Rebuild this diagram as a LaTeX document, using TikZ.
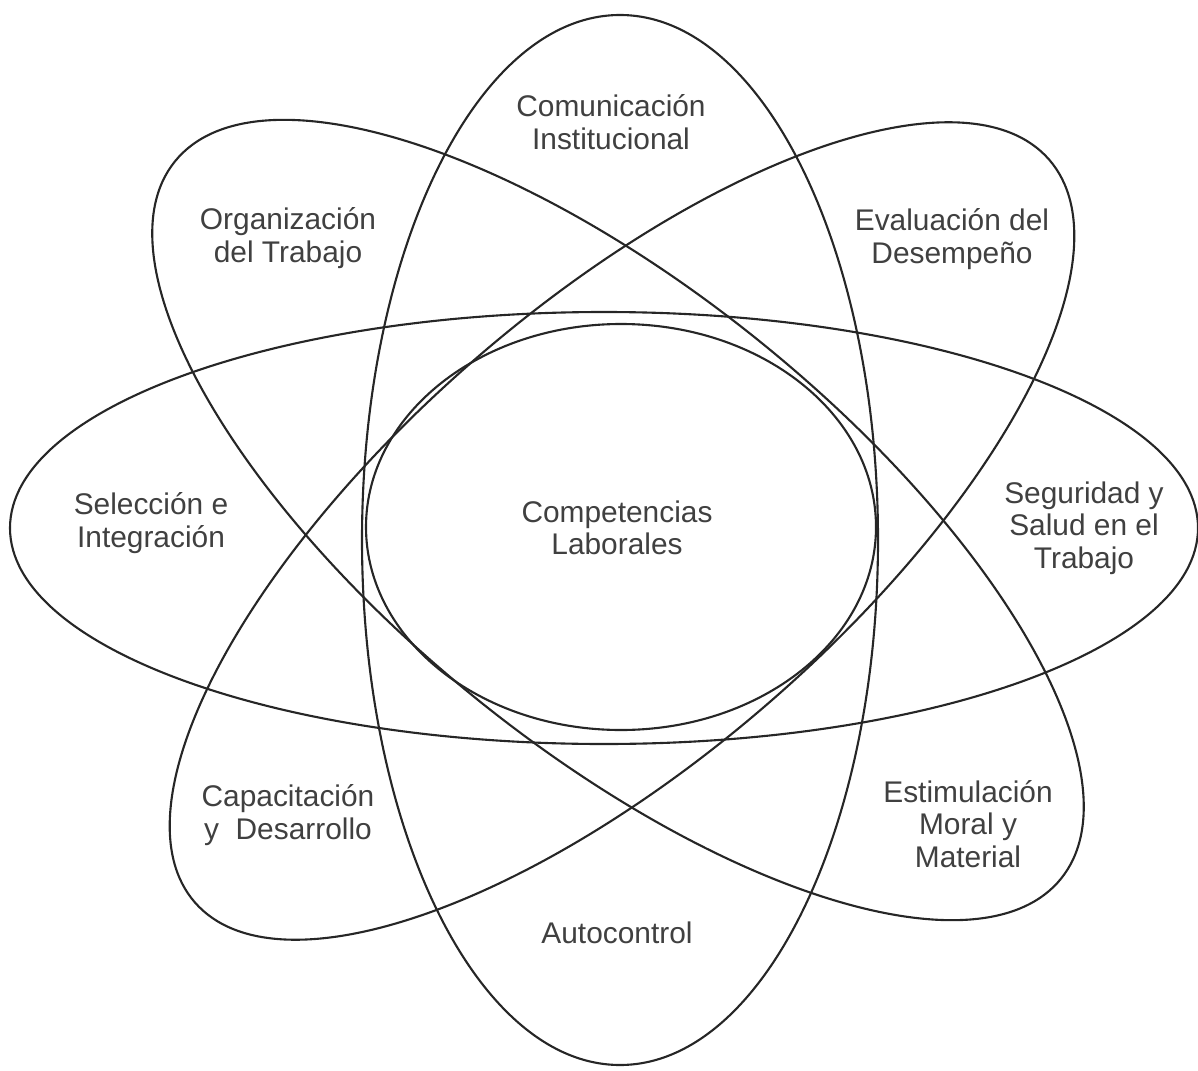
\documentclass[tikz,border=0pt]{standalone}
\usepackage{fontspec}
\setmainfont{Liberation Sans}
\usepackage{tikz}

\begin{document}
\begin{tikzpicture}[every node/.style={align=center,text=black!75,font=\fontsize{8.5}{9.2}\selectfont},orbit/.style={draw=black!85,line width=0.6pt}]
\useasboundingbox (0,0) rectangle (11.98,10.70);
\draw [orbit] (6.20,5.30) ellipse [x radius=2.58,y radius=5.25];
\draw [orbit] (6.04,5.42) ellipse [x radius=5.94,y radius=2.16];
\draw [orbit,rotate around={-39:(6.18,5.50)}] (6.18,5.50) ellipse [x radius=5.70,y radius=2.28];
\draw [orbit,rotate around={41:(6.22,5.39)}] (6.22,5.39) ellipse [x radius=5.66,y radius=2.26];
\draw [orbit] (6.21,5.43) ellipse [x radius=2.55,y radius=2.03];
\node (com) at (6.11,9.48) {Comunicación\\Institucional};
\node (org) at (2.88,8.32) {Organización\\del Trabajo};
\node (eva) at (9.52,8.31) {Evaluación del\\Desempeño};
\node (sel) at (1.51,5.47) {Selección e\\Integración};
\node (comp) at (6.17,5.42) {Competencias\\Laborales};
\node (seg) at (10.84,5.42) {Seguridad y\\Salud en el\\Trabajo};
\node (cap) at (2.88,2.55) {Capacitación\\y\ \ Desarrollo};
\node (est) at (9.68,2.46) {Estimulación\\Moral y\\Material};
\node (aut) at (6.17,1.37) {Autocontrol};
\end{tikzpicture}
\end{document}
